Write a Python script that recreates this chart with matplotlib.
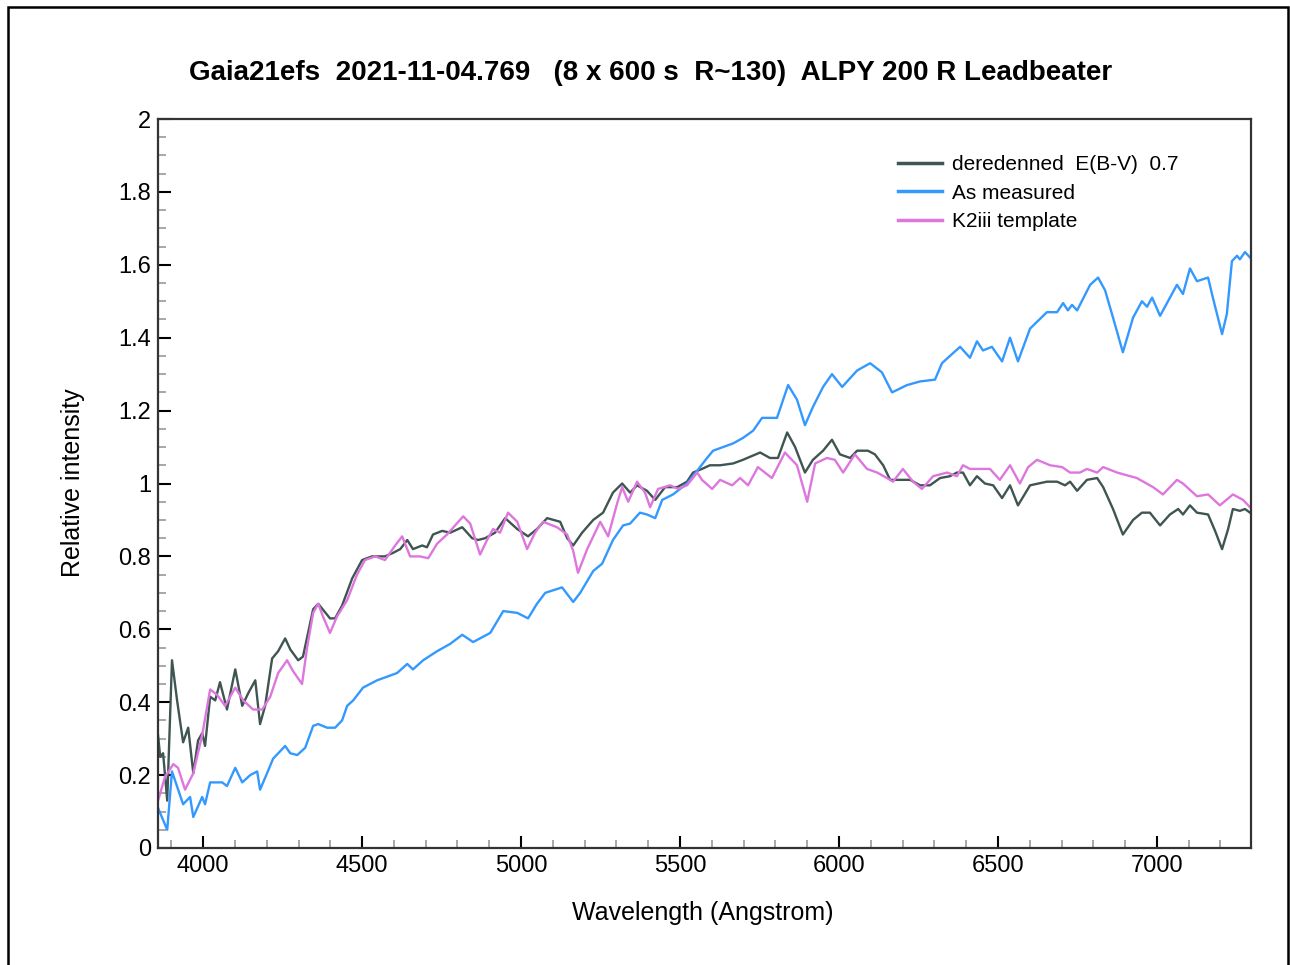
import numpy as np
import matplotlib
matplotlib.use("Agg")
import matplotlib.pyplot as plt
from matplotlib.patches import Rectangle
from matplotlib.ticker import MultipleLocator, FuncFormatter

plt.rcParams['font.family'] = ['Liberation Sans', 'DejaVu Sans']

# Wavelength (Angstrom) / relative intensity samples for each spectrum
wl_measured = [3858, 3887, 3902, 3937, 3959, 3969, 3997, 4006, 4022, 4060, 4075, 4101, 4123,
               4148, 4170, 4179, 4201, 4220, 4258, 4274, 4296, 4321, 4346, 4362, 4390, 4415,
               4437, 4453, 4472, 4503, 4547, 4610, 4642, 4660, 4692, 4736, 4777, 4815, 4849,
               4903, 4944, 4988, 5022, 5050, 5076, 5129, 5164, 5186, 5227, 5255, 5289, 5321,
               5343, 5374, 5396, 5422, 5444, 5478, 5522, 5554, 5585, 5604, 5667, 5698, 5730,
               5758, 5805, 5840, 5868, 5893, 5918, 5950, 5978, 6010, 6057, 6098, 6135, 6167,
               6214, 6255, 6302, 6324, 6349, 6381, 6412, 6434, 6453, 6481, 6513, 6538, 6563,
               6601, 6654, 6686, 6705, 6720, 6733, 6749, 6790, 6815, 6837, 6862, 6893, 6925,
               6953, 6969, 6985, 7010, 7063, 7082, 7104, 7126, 7161, 7176, 7205, 7220, 7236,
               7252, 7261, 7277, 7293]
fl_measured = [0.11, 0.05, 0.21, 0.12, 0.14, 0.085, 0.14, 0.12, 0.18, 0.18, 0.17, 0.22, 0.18,
               0.20, 0.21, 0.16, 0.205, 0.245, 0.28, 0.26, 0.255, 0.275, 0.335, 0.34, 0.33, 0.33,
               0.35, 0.39, 0.405, 0.44, 0.46, 0.48, 0.505, 0.49, 0.515, 0.54, 0.56, 0.585, 0.565,
               0.59, 0.65, 0.645, 0.63, 0.67, 0.70, 0.715, 0.675, 0.70, 0.76, 0.78, 0.845, 0.885,
               0.89, 0.92, 0.915, 0.905, 0.955, 0.97, 1.0, 1.035, 1.07, 1.09, 1.11, 1.125, 1.145,
               1.18, 1.18, 1.27, 1.23, 1.16, 1.21, 1.265, 1.30, 1.265, 1.31, 1.33, 1.305, 1.25,
               1.27, 1.28, 1.285, 1.33, 1.35, 1.375, 1.345, 1.39, 1.365, 1.375, 1.335, 1.40, 1.335,
               1.425, 1.47, 1.47, 1.495, 1.475, 1.49, 1.475, 1.545, 1.565, 1.53, 1.455, 1.36, 1.455,
               1.50, 1.485, 1.51, 1.46, 1.545, 1.52, 1.59, 1.555, 1.565, 1.51, 1.41, 1.465, 1.61,
               1.625, 1.615, 1.635, 1.62]

wl_dered = [3858, 3865, 3874, 3887, 3902, 3918, 3937, 3953, 3969, 3984, 3997, 4006, 4022, 4038,
            4053, 4075, 4101, 4123, 4142, 4164, 4179, 4195, 4217, 4236, 4258, 4274, 4299, 4314,
            4346, 4362, 4399, 4415, 4437, 4469, 4500, 4531, 4572, 4598, 4620, 4642, 4660, 4689,
            4704, 4723, 4752, 4777, 4815, 4846, 4865, 4887, 4918, 4950, 4988, 5022, 5050, 5082,
            5123, 5145, 5164, 5192, 5227, 5258, 5289, 5318, 5343, 5365, 5396, 5422, 5453, 5491,
            5522, 5541, 5569, 5594, 5626, 5667, 5698, 5752, 5783, 5808, 5837, 5862, 5893, 5918,
            5950, 5978, 6003, 6035, 6057, 6091, 6113, 6139, 6161, 6192, 6224, 6255, 6286, 6318,
            6349, 6371, 6390, 6412, 6434, 6459, 6485, 6513, 6538, 6563, 6601, 6654, 6686, 6711,
            6727, 6749, 6780, 6812, 6831, 6862, 6893, 6925, 6953, 6978, 7010, 7041, 7067, 7082,
            7104, 7126, 7161, 7183, 7205, 7224, 7239, 7261, 7277, 7293]
fl_dered = [0.31, 0.25, 0.26, 0.13, 0.515, 0.405, 0.29, 0.33, 0.205, 0.295, 0.315, 0.28, 0.415,
            0.405, 0.455, 0.38, 0.49, 0.39, 0.425, 0.46, 0.34, 0.39, 0.52, 0.54, 0.575, 0.545,
            0.515, 0.525, 0.655, 0.67, 0.63, 0.63, 0.665, 0.74, 0.79, 0.80, 0.80, 0.81, 0.82,
            0.845, 0.82, 0.83, 0.825, 0.86, 0.87, 0.865, 0.88, 0.85, 0.845, 0.85, 0.865, 0.905,
            0.875, 0.855, 0.875, 0.905, 0.895, 0.85, 0.83, 0.865, 0.90, 0.92, 0.975, 1.0, 0.975,
            0.995, 0.98, 0.955, 0.99, 0.99, 1.005, 1.03, 1.04, 1.05, 1.05, 1.055, 1.065, 1.085,
            1.07, 1.07, 1.14, 1.10, 1.03, 1.065, 1.09, 1.12, 1.08, 1.07, 1.09, 1.09, 1.08, 1.05,
            1.01, 1.01, 1.01, 0.995, 0.995, 1.015, 1.02, 1.03, 1.03, 0.995, 1.02, 1.0, 0.995,
            0.96, 0.995, 0.94, 0.995, 1.005, 1.005, 0.995, 1.005, 0.98, 1.01, 1.015, 0.99, 0.93,
            0.86, 0.90, 0.92, 0.92, 0.885, 0.915, 0.93, 0.915, 0.94, 0.92, 0.915, 0.87, 0.82,
            0.875, 0.93, 0.925, 0.93, 0.92]

wl_k2iii = [3858, 3880, 3906, 3921, 3943, 3969, 3997, 4022, 4044, 4069, 4101, 4126, 4157, 4186,
            4211, 4236, 4264, 4283, 4311, 4327, 4346, 4362, 4377, 4399, 4421, 4453, 4484, 4509,
            4541, 4572, 4604, 4626, 4651, 4682, 4708, 4736, 4767, 4818, 4840, 4871, 4893, 4912,
            4934, 4959, 4988, 5019, 5044, 5069, 5113, 5145, 5164, 5179, 5208, 5249, 5274, 5302,
            5318, 5337, 5365, 5390, 5406, 5431, 5469, 5494, 5522, 5554, 5569, 5601, 5626, 5664,
            5689, 5714, 5745, 5789, 5830, 5868, 5900, 5925, 5962, 5987, 6013, 6050, 6088, 6120,
            6151, 6170, 6201, 6233, 6261, 6296, 6340, 6371, 6390, 6412, 6475, 6506, 6538, 6569,
            6595, 6623, 6664, 6702, 6727, 6758, 6780, 6812, 6831, 6875, 6937, 6988, 7019, 7063,
            7082, 7126, 7161, 7198, 7239, 7271, 7293]
fl_k2iii = [0.13, 0.195, 0.23, 0.22, 0.16, 0.205, 0.31, 0.435, 0.42, 0.39, 0.44, 0.405, 0.38, 0.38,
            0.415, 0.48, 0.515, 0.485, 0.45, 0.55, 0.645, 0.67, 0.635, 0.59, 0.635, 0.68, 0.75,
            0.79, 0.80, 0.79, 0.83, 0.855, 0.80, 0.80, 0.795, 0.835, 0.86, 0.91, 0.89, 0.805,
            0.845, 0.875, 0.865, 0.92, 0.895, 0.82, 0.865, 0.895, 0.88, 0.86, 0.815, 0.755, 0.82,
            0.895, 0.855, 0.945, 0.99, 0.95, 1.005, 0.975, 0.935, 0.985, 0.995, 0.985, 0.995,
            1.03, 1.01, 0.985, 1.01, 0.995, 1.015, 0.995, 1.045, 1.015, 1.085, 1.05, 0.95, 1.055,
            1.07, 1.065, 1.03, 1.08, 1.04, 1.03, 1.015, 1.005, 1.04, 1.005, 0.985, 1.02, 1.03,
            1.02, 1.05, 1.04, 1.04, 1.01, 1.05, 1.0, 1.045, 1.065, 1.05, 1.045, 1.03, 1.03, 1.04,
            1.03, 1.045, 1.03, 1.015, 0.99, 0.97, 1.01, 1.0, 0.965, 0.97, 0.94, 0.97, 0.955, 0.935]

title = "Gaia21efs  2021-11-04.769   (8 x 600 s  R~130)  ALPY 200 R Leadbeater"

fig = plt.figure(figsize=(12.9, 9.65), dpi=100)
ax = fig.add_axes([158 / 1290, 1 - 848 / 965, (1251 - 158) / 1290, (848 - 119) / 965])

ax.plot(wl_dered, fl_dered, color='#3f5552', lw=1.7, label='deredenned  E(B-V)  0.7')
ax.plot(wl_measured, fl_measured, color='#3399ff', lw=1.7, label='As measured')
ax.plot(wl_k2iii, fl_k2iii, color='#dd77dd', lw=1.7, label='K2iii template')

ax.set_xlim(3858, 7296)
ax.set_ylim(0, 2)
ax.xaxis.set_major_locator(MultipleLocator(500))
ax.xaxis.set_minor_locator(MultipleLocator(100))
ax.yaxis.set_major_locator(MultipleLocator(0.2))
ax.yaxis.set_minor_locator(MultipleLocator(0.05))
ax.yaxis.set_major_formatter(FuncFormatter(lambda v, p: '%g' % round(v, 2)))

ax.tick_params(which='both', direction='in', top=False, right=False, labelsize=17)
ax.tick_params(which='major', length=9, width=1.5, color='black', pad=5)
ax.tick_params(which='minor', length=6, width=1.2, color='#999999')
for s in ax.spines.values():
    s.set_linewidth(1.6)
    s.set_color('#333333')

leg = ax.legend(loc='upper left', bbox_to_anchor=(0.66, 0.976), frameon=False,
                fontsize=15, handlelength=2.1, handletextpad=0.5, labelspacing=0.45)
for line in leg.get_lines():
    line.set_linewidth(2.5)

fig.text(0.504, 1 - 73 / 965, title, ha='center', va='center', fontsize=20, fontweight='bold')
fig.text(703 / 1290, 1 - 913 / 965, 'Wavelength (Angstrom)', ha='center', va='center', fontsize=18)
fig.text(73 / 1290, 1 - 483 / 965, 'Relative intensity', ha='center', va='center',
         rotation=90, fontsize=18)

# outer frame around the whole plot
fig.patches.append(Rectangle((8 / 1290, -0.02), 1280 / 1290, (965 - 7) / 965 + 0.02,
                             transform=fig.transFigure, fill=False, edgecolor='black', lw=1.8))

fig.savefig('out.png', dpi=100)
